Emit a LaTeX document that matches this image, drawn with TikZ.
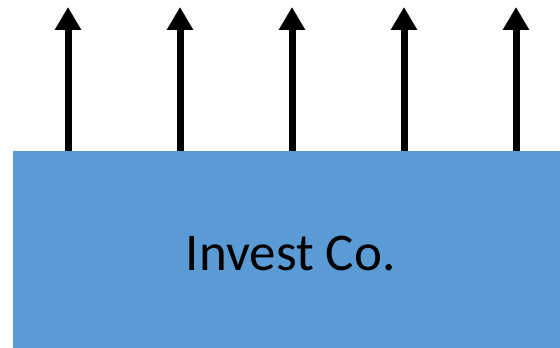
\documentclass[tikz,border=0pt]{standalone}
\usepackage{fontspec}
\setmainfont{Carlito}
\usepackage{tikz}
\usetikzlibrary{arrows.meta,positioning}

\definecolor{coblue}{HTML}{5B9BD5}

\begin{document}
\begin{tikzpicture}[
  x=1pt, y=1pt,
  >={Triangle[length=23pt, width=25pt]},
  company/.style={fill=coblue, draw=none, minimum width=547pt,
    minimum height=197pt, anchor=south west, inner sep=0pt},
  colabel/.style={font=\fontsize{53}{60}\selectfont, inner sep=0pt},
  flow/.style={->, line width=7pt, black},
]
\useasboundingbox (0,0) rectangle (560,348);
% Company block
\node[company] (co) at (13,0) {};
\node[colabel] (coname) at ([xshift=4pt,yshift=-4pt]co.center) {Invest Co.};
% Upward flows
\foreach \i/\x in {1/68,2/180,3/292,4/404,5/516} {
  \coordinate (base\i) at (\x,197);
  \coordinate (tip\i) at (\x,341);
  \draw[flow] (base\i) -- (tip\i);
}
\end{tikzpicture}
\end{document}
